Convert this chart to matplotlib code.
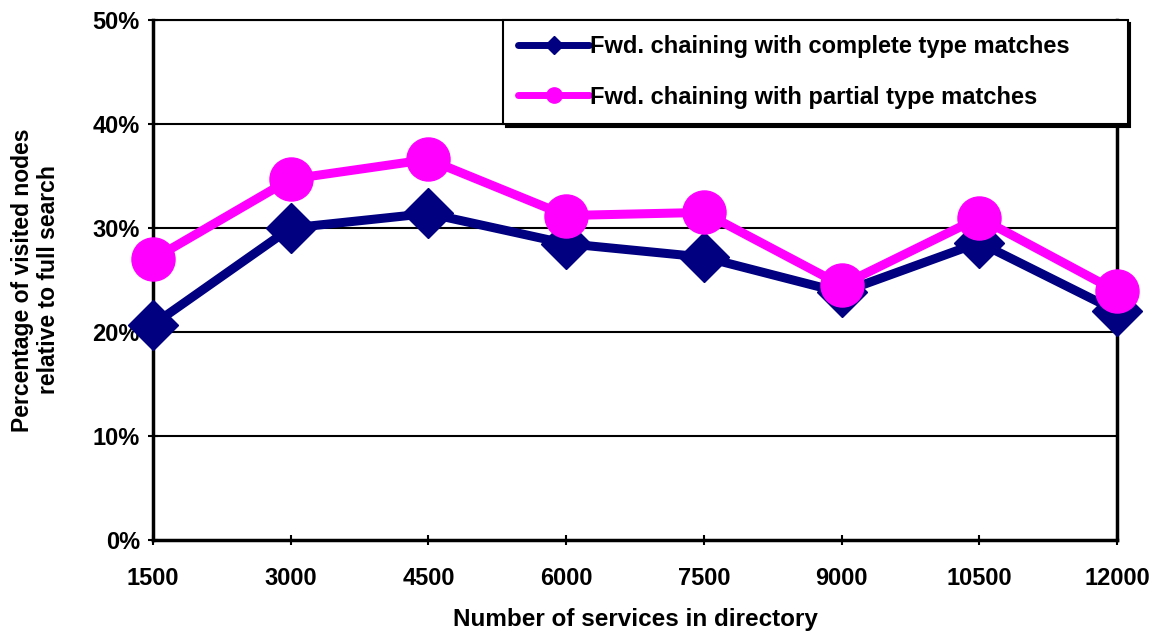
import matplotlib.pyplot as plt
from matplotlib.lines import Line2D
from matplotlib.ticker import PercentFormatter

plt.rcParams['font.family'] = ['Liberation Sans', 'DejaVu Sans']
plt.rcParams['font.weight'] = 'bold'
plt.rcParams['axes.labelweight'] = 'bold'

services = [1500, 3000, 4500, 6000, 7500, 9000, 10500, 12000]
complete = [20.7, 30.0, 31.4, 28.5, 27.2, 23.8, 28.6, 22.0]
partial = [27.0, 34.7, 36.6, 31.2, 31.5, 24.5, 31.0, 23.9]

navy = '#000080'
pink = '#ff00ff'

fig = plt.figure(figsize=(11.57, 6.31), dpi=100)
ax = fig.add_axes([0.1322, 0.1442, 0.8332, 0.8241])

for y in range(10, 60, 10):
    ax.axhline(y, color='black', lw=1.5, zorder=1)

ax.plot(services, complete, color=navy, lw=6.5, marker='D', ms=25,
        solid_joinstyle='miter', zorder=3, clip_on=False)
ax.plot(services, partial, color=pink, lw=6.5, marker='o', ms=31,
        zorder=4, clip_on=False)

ax.set_xlim(1500, 12000)
ax.set_ylim(0, 50)
ax.set_xticks(services)
ax.set_xticklabels([str(s) for s in services])
ax.set_yticks(range(0, 60, 10))
ax.yaxis.set_major_formatter(PercentFormatter(decimals=0))
ax.tick_params(axis='both', labelsize=17, length=7, width=1.5, direction='inout')
ax.tick_params(axis='x', pad=16)
ax.tick_params(axis='y', pad=6)
for s in ax.spines.values():
    s.set_linewidth(2.5)
    s.set_color('black')
ax.spines['top'].set_linewidth(1.5)

ax.set_xlabel('Number of services in directory', fontsize=17.5, labelpad=13)
ax.set_ylabel('Percentage of visited nodes\nrelative to full search', fontsize=16.5,
              labelpad=23)

handles = [
    Line2D([], [], color=navy, lw=5, marker='D', ms=9, solid_capstyle='round'),
    Line2D([], [], color=pink, lw=5, marker='o', ms=11, solid_capstyle='round'),
]
labels = ['Fwd. chaining with complete type matches',
          'Fwd. chaining with partial type matches']
leg = ax.legend(handles, labels, loc='upper left',
                bbox_to_anchor=(0.363, 0.0, 0.648, 1.0), mode='expand',
                frameon=True, fancybox=False, shadow={'color': 'black', 'alpha': 1},
                prop={'weight': 'bold', 'size': 17},
                handlelength=3.0, handletextpad=0.05, labelspacing=1.15,
                borderpad=0.65, borderaxespad=0)
leg.get_frame().set_edgecolor('black')
leg.get_frame().set_linewidth(1.5)
leg.set_zorder(5)

fig.savefig('out.png', dpi=100)
